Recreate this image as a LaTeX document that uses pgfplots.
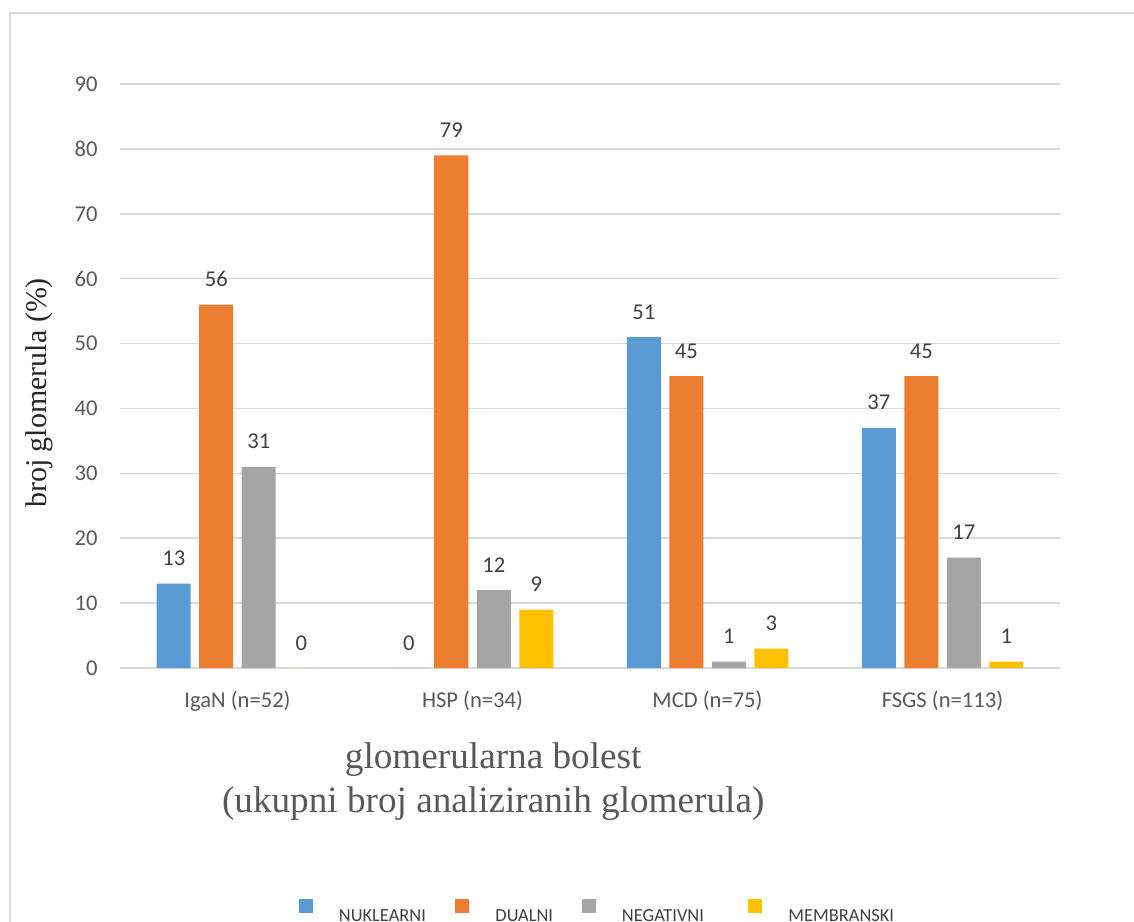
\documentclass[border=0pt]{standalone}
\usepackage{pgfplots}
\pgfplotsset{compat=1.18}
\usepackage{fontspec}
\setmainfont{Carlito}
\newfontfamily\timesfont{Liberation Serif}
\definecolor{cblue}{HTML}{5B9BD5}
\definecolor{corange}{HTML}{ED7D31}
\definecolor{cgray}{HTML}{A5A5A5}
\definecolor{cyellow}{HTML}{FFC000}
\definecolor{gridc}{HTML}{D9D9D9}
\definecolor{tickc}{HTML}{595959}
\definecolor{labc}{HTML}{404040}
\pgfplotsset{
  sqleg/.style={legend image code/.code={\path[fill=none,draw=none] (0pt,0pt) rectangle (18pt,11.5pt); \fill[##1,draw=none] (0pt,4.5pt) rectangle (7pt,11.5pt);}}
}
\begin{document}
\begin{tikzpicture}
\useasboundingbox (0,0) rectangle (567pt,460.5pt);
\draw[gridc, line width=1pt] (5pt,-30pt) rectangle (620pt,454pt);
\begin{axis}[
  at={(60pt,126.5pt)}, anchor=south west,
  scale only axis, width=470pt, height=292pt,
  ybar=4.25pt, bar width=17pt,
  xmin=-0.5, xmax=3.5, ymin=0, ymax=90,
  xtick=data,
  xticklabels={IgaN (n=52), HSP (n=34), MCD (n=75), FSGS (n=113)},
  ytick={0,10,...,90},
  ymajorgrids, grid style={gridc, line width=0.8pt},
  axis line style={draw=none},
  major tick length=0pt, tick style={draw=none},
  /pgf/number format/assume math mode=true,
  ticklabel style={font=\fontsize{11.3}{13}\selectfont, text=tickc},
  xticklabel style={anchor=base, inner sep=0pt, yshift=-19.5pt},
  yticklabel style={anchor=east, inner sep=0pt, xshift=-11pt},
  nodes near coords,
  nodes near coords style={font=\fontsize{11.3}{13}\selectfont, text=labc, anchor=base, inner sep=0pt, yshift=9pt},
  ylabel={broj glomerula (\%)},
  ylabel style={font=\timesfont\fontsize{15}{18}\selectfont, text=black!85, at={(axis description cs:-0.0777,0.4709)}, anchor=base, rotate=0},
  xlabel={glomerularna bolest\\(ukupni broj analiziranih glomerula)},
  xlabel style={font=\timesfont\fontsize{18.6}{22}\selectfont, text=tickc, align=center, at={(axis description cs:0.397,-0.2466)}, anchor=base},
  legend columns=4,
  legend style={at={(axis description cs:0.1904,-0.3955)}, anchor=north west, draw=none, fill=none, inner sep=0pt, outer sep=0pt, column sep=0pt, row sep=0pt, font=\fontsize{9.2}{10}\selectfont, text=labc, cells={anchor=base west, inner sep=0pt}},
]
\addplot[fill=cblue, draw=none, sqleg] coordinates {(0,13) (1,0) (2,51) (3,37)};
\addplot[fill=corange, draw=none, sqleg] coordinates {(0,56) (1,79) (2,45) (3,45)};
\addplot[fill=cgray, draw=none, sqleg] coordinates {(0,31) (1,12) (2,1) (3,17)};
\addplot[fill=cyellow, draw=none, sqleg] coordinates {(0,0) (1,9) (2,3) (3,1)};
\legend{\makebox[56.25pt][l]{NUKLEARNI}, \makebox[41.25pt][l]{DUALNI}, \makebox[61.25pt][l]{NEGATIVNI}, MEMBRANSKI}
\end{axis}
\end{tikzpicture}
\end{document}
